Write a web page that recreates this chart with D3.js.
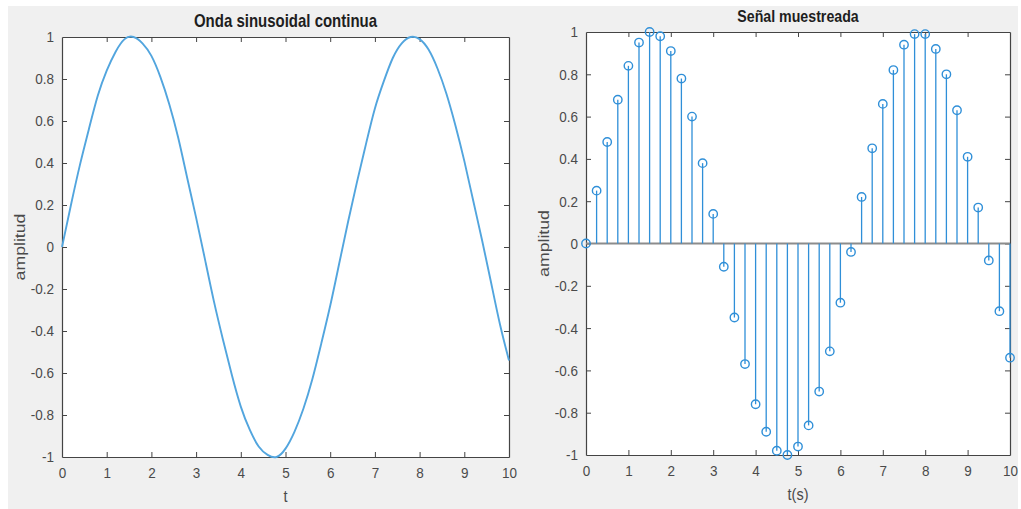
<!DOCTYPE html>
<html>
<head>
<meta charset="utf-8">
<script src="https://cdn.jsdelivr.net/npm/d3@7"></script>
<style>
  body { margin: 0; background: #fff; font-family: "Liberation Sans", Arial, sans-serif; }
  svg { display: block; }
</style>
</head>
<body>
<div class="chart"></div>
<script>
// continuous sine, read every 0.2 s
const tCont = [0,0.2,0.4,0.6,0.8,1.0,1.2,1.4,1.6,1.8,2.0,2.2,2.4,2.6,2.8,3.0,3.2,3.4,3.6,3.8,4.0,4.2,4.4,4.6,4.8,5.0,
  5.2,5.4,5.6,5.8,6.0,6.2,6.4,6.6,6.8,7.0,7.2,7.4,7.6,7.8,8.0,8.2,8.4,8.6,8.8,9.0,9.2,9.4,9.6,9.8,10.0];
const yCont = [0,0.20,0.39,0.56,0.72,0.84,0.93,0.99,1.00,0.97,0.91,0.81,0.68,0.52,0.33,0.14,-0.06,-0.26,-0.44,-0.61,-0.76,
  -0.87,-0.95,-0.99,-1.00,-0.96,-0.88,-0.77,-0.63,-0.46,-0.28,-0.08,0.12,0.31,0.49,0.66,0.79,0.90,0.97,1.00,0.99,
  0.94,0.85,0.73,0.58,0.41,0.22,0.03,-0.17,-0.37,-0.54];

// sampled signal, every 0.25 s
const tSamp = [0,0.25,0.5,0.75,1,1.25,1.5,1.75,2,2.25,2.5,2.75,3,3.25,3.5,3.75,4,4.25,4.5,4.75,5,
  5.25,5.5,5.75,6,6.25,6.5,6.75,7,7.25,7.5,7.75,8,8.25,8.5,8.75,9,9.25,9.5,9.75,10];
const ySamp = [0,0.25,0.48,0.68,0.84,0.95,1.00,0.98,0.91,0.78,0.60,0.38,0.14,-0.11,-0.35,-0.57,-0.76,-0.89,-0.98,-1.00,
  -0.96,-0.86,-0.70,-0.51,-0.28,-0.04,0.22,0.45,0.66,0.82,0.94,0.99,0.99,0.92,0.80,0.63,0.41,0.17,-0.08,-0.32,-0.54];

const xTicks = [0,1,2,3,4,5,6,7,8,9,10];
const yTicks = [-1,-0.8,-0.6,-0.4,-0.2,0,0.2,0.4,0.6,0.8,1];

const W = 1021, H = 509;
const axisColor = "#444";
const lineColor = "#52a5de";
const stemColor = "#2f8fd8";
const stretch = 1.15; // text in the picture is a little taller than wide

const svg = d3.select(".chart").append("svg")
  .attr("width", W).attr("height", H);

svg.append("rect")
  .attr("x", 8).attr("y", 6)
  .attr("width", 1010).attr("height", 503)
  .attr("fill", "#f0f0f0");

function drawAxes(box, title, titleSize, xlabel) {
  const x = d3.scaleLinear().domain([0, 10]).range([box.x0, box.x1]);
  const y = d3.scaleLinear().domain([-1, 1]).range([box.y1, box.y0]);
  const g = svg.append("g");

  g.append("rect")
    .attr("x", box.x0).attr("y", box.y0)
    .attr("width", box.x1 - box.x0).attr("height", box.y1 - box.y0)
    .attr("fill", "#fff");

  const tk = 5;
  // ticks pointing inward on all four sides
  const fmt = d => d === 0 ? "0" : String(d);
  const xb = g.append("g").attr("transform", `translate(0,${box.y1})`)
    .call(d3.axisBottom(x).tickValues(xTicks).tickSizeInner(-tk).tickSizeOuter(0).tickPadding(9).tickFormat(fmt));
  const xt = g.append("g").attr("transform", `translate(0,${box.y0})`)
    .call(d3.axisTop(x).tickValues(xTicks).tickSizeInner(-tk).tickSizeOuter(0).tickFormat(""));
  const yl = g.append("g").attr("transform", `translate(${box.x0},0)`)
    .call(d3.axisLeft(y).tickValues(yTicks).tickSizeInner(-tk).tickSizeOuter(0).tickPadding(8).tickFormat(fmt));
  const yr = g.append("g").attr("transform", `translate(${box.x1},0)`)
    .call(d3.axisRight(y).tickValues(yTicks).tickSizeInner(-tk).tickSizeOuter(0).tickFormat(""));

  [xb, xt, yl, yr].forEach(a => {
    a.select(".domain").attr("stroke", axisColor).attr("stroke-width", 1.2);
    a.selectAll(".tick line").attr("stroke", axisColor).attr("stroke-width", 1);
    a.selectAll(".tick text")
      .attr("fill", "#4a4a4a")
      .attr("font-family", "'Liberation Sans', Arial, sans-serif")
      .attr("font-size", 13.5)
      .attr("transform", `scale(1,${stretch})`);
  });
  // skip edge ticks at the corners
  [xb, xt].forEach(a => a.selectAll(".tick line").filter(d => d === 0 || d === 10).remove());
  [yl, yr].forEach(a => a.selectAll(".tick line").filter(d => d === -1 || d === 1).remove());

  g.append("text")
    .attr("transform", `translate(${(box.x0 + box.x1) / 2},${box.y0 - 10}) scale(1,1.2)`)
    .attr("text-anchor", "middle")
    .attr("font-weight", "bold")
    .attr("font-size", titleSize)
    .attr("fill", "#1e1e1e")
    .text(title);

  g.append("text")
    .attr("transform", `translate(${(box.x0 + box.x1) / 2},${box.y1 + 45}) scale(1,${stretch})`)
    .attr("text-anchor", "middle")
    .attr("font-size", 14.5)
    .attr("fill", "#4a4a4a")
    .text(xlabel);

  g.append("text")
    .attr("transform", `translate(${box.x0 - 37},${(box.y0 + box.y1) / 2}) rotate(-90) scale(1.18,1)`)
    .attr("text-anchor", "middle")
    .attr("font-size", 15)
    .attr("fill", "#4a4a4a")
    .text("amplitud");

  return { x, y, g };
}

// left: continuous wave
const left = drawAxes({ x0: 62, x1: 509, y0: 37, y1: 457 }, "Onda sinusoidal continua", 15, "t");
const contData = tCont.map((t, i) => [t, yCont[i]]);
left.g.append("path")
  .datum(contData)
  .attr("fill", "none")
  .attr("stroke", lineColor)
  .attr("stroke-width", 1.9)
  .attr("d", d3.line().x(d => left.x(d[0])).y(d => left.y(d[1])).curve(d3.curveNatural));

// right: sampled signal (stem)
const right = drawAxes({ x0: 586, x1: 1010, y0: 32, y1: 455 }, "Señal muestreada", 14.2, "t(s)");
const sampData = tSamp.map((t, i) => [t, ySamp[i]]);
right.g.append("line")
  .attr("x1", right.x(0)).attr("x2", right.x(10))
  .attr("y1", right.y(0)).attr("y2", right.y(0))
  .attr("stroke", "#8c8c8c")
  .attr("stroke-width", 1.8);
right.g.selectAll(".stem")
  .data(sampData)
  .join("line")
  .attr("class", "stem")
  .attr("x1", d => right.x(d[0])).attr("x2", d => right.x(d[0]))
  .attr("y1", right.y(0)).attr("y2", d => right.y(d[1]))
  .attr("stroke", stemColor)
  .attr("stroke-width", 1.3);
right.g.selectAll(".marker")
  .data(sampData)
  .join("circle")
  .attr("class", "marker")
  .attr("cx", d => right.x(d[0]))
  .attr("cy", d => right.y(d[1]))
  .attr("r", 4.2)
  .attr("fill", "none")
  .attr("stroke", stemColor)
  .attr("stroke-width", 1.4);
</script>
</body>
</html>
